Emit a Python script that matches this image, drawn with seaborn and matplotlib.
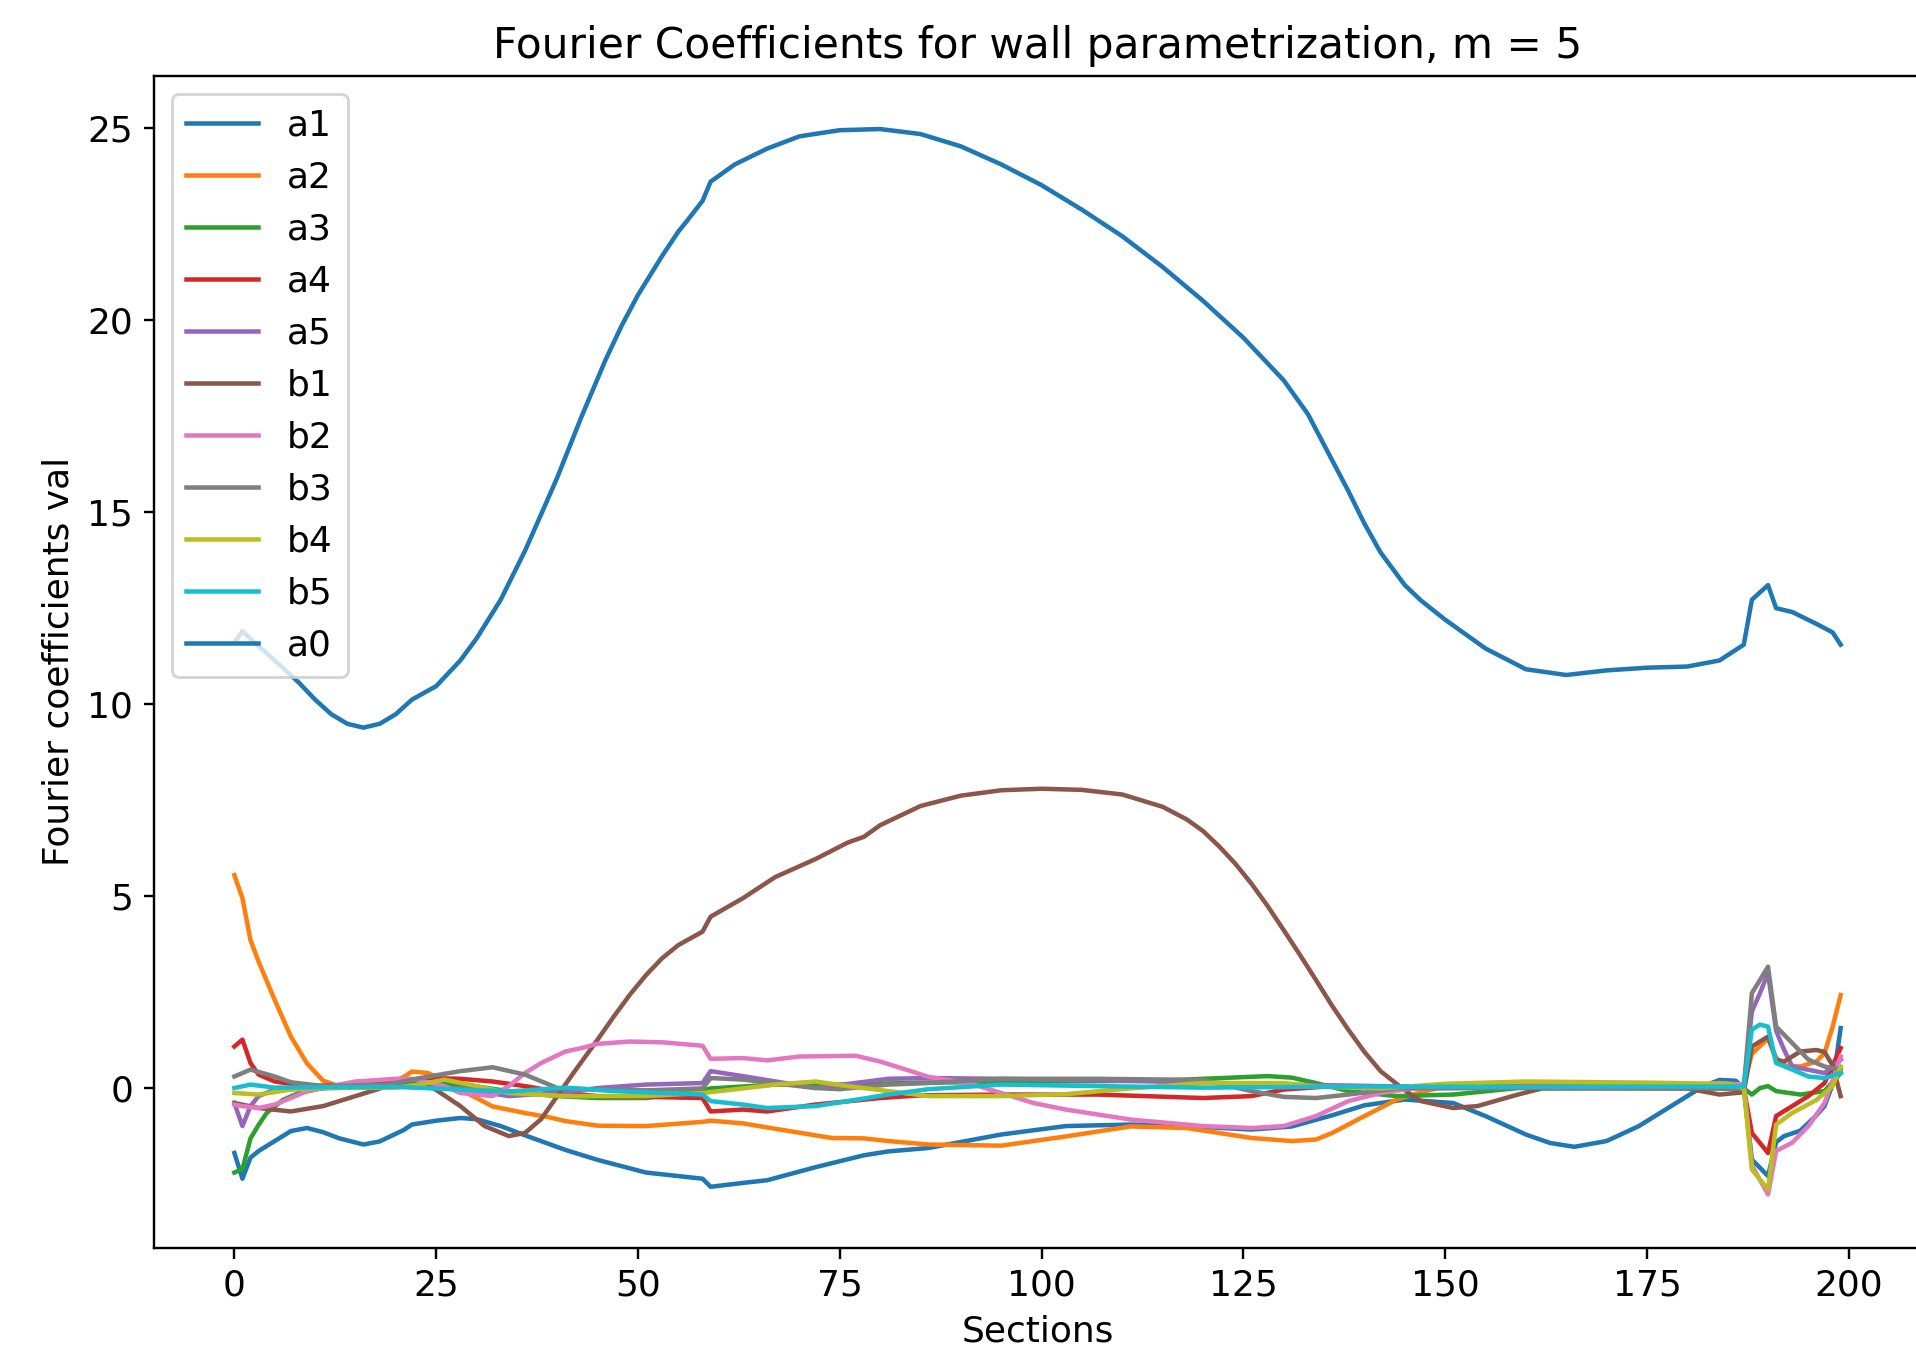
import matplotlib
matplotlib.use("Agg")
import matplotlib.pyplot as plt
import seaborn as sns

# ---- data ----
a1_x = [0,1,2,3,5,7,9,11,13,16,18,21,22,25,28,30,33,36,41,45,51,58,59,63,66,72,78,81,86,95,103,111,118,126,131,136,140,145,151,155,160,163,166,170,174,178,182,184,186,187,188,190,191,192,194,196,197,198,199]
a1_y = [-1.68,-2.35,-1.8,-1.63,-1.37,-1.11,-1.03,-1.14,-1.3,-1.46,-1.38,-1.08,-0.94,-0.84,-0.77,-0.8,-0.98,-1.22,-1.6,-1.86,-2.19,-2.35,-2.56,-2.46,-2.39,-2.05,-1.74,-1.64,-1.55,-1.2,-0.98,-0.94,-0.98,-1.07,-0.99,-0.7,-0.44,-0.29,-0.38,-0.72,-1.2,-1.42,-1.52,-1.37,-0.98,-0.46,0.06,0.22,0.2,0.0,-1.85,-2.28,-1.4,-1.24,-1.1,-0.7,-0.46,0.1,1.57]

a2_x = [0,1,2,3,5,7,9,11,13,16,19,21,22,24,26,28,32,36,39,41,45,51,58,59,63,67,74,78,81,86,95,103,111,118,126,131,134,136,140,144,147,150,155,170,180,187,188,189,190,191,192,194,196,197,198,199]
a2_y = [5.55,4.95,3.86,3.3,2.3,1.35,0.65,0.2,0.06,0.05,0.1,0.3,0.44,0.4,0.2,-0.03,-0.47,-0.64,-0.75,-0.85,-0.97,-0.98,-0.87,-0.84,-0.91,-1.05,-1.29,-1.3,-1.37,-1.46,-1.49,-1.25,-0.99,-1.03,-1.29,-1.37,-1.33,-1.16,-0.72,-0.29,-0.1,0.05,0.12,0.12,0.1,0.1,0.9,1.1,1.3,0.8,0.6,0.57,0.7,0.92,1.6,2.43]

a3_x = [0,1,2,3,4,6,8,11,20,25,30,35,40,45,51,58,59,67,75,85,100,115,120,128,131,134,138,144,151,159,170,187,188,189,190,191,194,197,199]
a3_y = [-2.19,-2.1,-1.3,-0.95,-0.64,-0.3,-0.12,0.01,0.1,0.15,0.05,-0.1,-0.2,-0.25,-0.25,-0.05,0.0,0.1,0.1,0.15,0.18,0.2,0.25,0.32,0.28,0.14,-0.07,-0.2,-0.16,0.01,0.02,0.0,-0.16,0.01,0.06,-0.07,-0.16,-0.07,0.4]

a4_x = [0,1,2,3,5,9,15,20,24,28,32,36,41,45,51,58,59,63,66,72,80,85,95,107,120,126,130,136,150,170,187,188,190,191,193,195,197,199]
a4_y = [1.09,1.27,0.66,0.36,0.18,0.06,0.1,0.2,0.27,0.25,0.18,0.06,-0.12,-0.2,-0.22,-0.25,-0.6,-0.55,-0.6,-0.42,-0.25,-0.18,-0.16,-0.16,-0.25,-0.2,-0.03,0.06,0.05,0.03,0.0,-1.16,-1.68,-0.72,-0.46,-0.2,0.14,1.05]

a5_x = [0,1,2,3,5,10,20,28,34,41,45,51,58,59,63,72,81,86,95,110,130,145,170,187,188,189,190,191,192,193,197,199]
a5_y = [-0.38,-0.98,-0.46,-0.2,-0.03,0.0,0.05,0.0,-0.2,-0.1,0.01,0.1,0.14,0.45,0.32,0.01,0.25,0.27,0.25,0.2,0.1,0.05,0.03,0.05,2.0,2.48,3.0,1.5,1.0,0.57,0.4,0.75]

b1_x = [0,3,7,11,15,19,22,24,28,31,34,36,38,40,42,45,47,49,51,53,55,58,59,63,67,72,76,78,80,85,90,95,100,105,110,115,118,120,122,124,126,128,130,132,134,136,138,140,142,145,147,151,154,159,162,170,180,184,187,188,190,191,192,194,196,197,198,199]
b1_y = [-0.38,-0.51,-0.6,-0.46,-0.2,0.06,0.23,0.1,-0.46,-0.98,-1.24,-1.16,-0.8,-0.2,0.4,1.27,1.87,2.44,2.95,3.39,3.73,4.08,4.47,4.95,5.5,5.97,6.4,6.55,6.85,7.35,7.62,7.76,7.8,7.77,7.65,7.33,7.0,6.7,6.3,5.85,5.33,4.75,4.12,3.48,2.82,2.15,1.53,0.95,0.45,-0.05,-0.33,-0.51,-0.46,-0.16,0.0,0.0,0.0,-0.16,-0.1,1.09,1.35,0.75,0.7,0.96,1.0,0.95,0.6,-0.2]

b2_x = [0,1,3,5,7,9,11,15,20,22,26,28,32,34,36,38,41,43,45,49,53,58,59,63,66,70,77,80,82,86,91,95,99,103,111,120,126,130,134,138,142,146,160,180,184,187,188,190,191,193,195,197,198,199]
b2_y = [-0.42,-0.46,-0.51,-0.42,-0.25,-0.07,0.02,0.18,0.25,0.25,0.06,-0.12,-0.2,0.06,0.4,0.66,0.96,1.05,1.16,1.22,1.2,1.11,0.77,0.79,0.73,0.83,0.85,0.7,0.57,0.3,0.14,-0.12,-0.38,-0.55,-0.81,-0.98,-1.03,-0.98,-0.72,-0.33,-0.12,0.0,0.02,0.05,0.14,0.1,-2.0,-2.76,-1.63,-1.41,-0.98,-0.38,0.2,0.83]

b3_x = [0,2,5,7,11,19,23,28,32,36,39,40,45,51,58,59,63,72,75,81,86,95,107,120,126,130,134,138,144,160,187,188,189,190,191,193,195,197,199]
b3_y = [0.31,0.49,0.31,0.16,0.06,0.1,0.27,0.45,0.55,0.36,0.1,0.01,-0.03,-0.05,0.0,0.27,0.23,0.01,-0.02,0.1,0.14,0.25,0.25,0.22,-0.07,-0.22,-0.25,-0.16,0.0,0.02,0.0,2.48,2.82,3.17,1.61,1.18,0.75,0.57,0.49]

b4_x = [0,3,7,11,20,23,26,30,34,41,51,58,63,67,72,76,81,86,95,103,111,120,130,134,142,150,160,175,185,187,188,190,191,193,196,198,199]
b4_y = [-0.12,-0.16,-0.03,0.01,0.02,0.1,0.23,0.06,-0.12,-0.2,-0.2,-0.12,0.0,0.1,0.18,0.06,-0.07,-0.2,-0.2,-0.15,0.0,0.14,0.14,0.05,0.0,0.12,0.18,0.15,0.12,0.01,-2.11,-2.63,-0.94,-0.64,-0.3,0.06,0.57]

b5_x = [0,2,5,10,20,28,34,41,47,58,59,63,66,72,76,81,86,95,107,120,140,160,185,187,188,189,190,191,193,195,197,199]
b5_y = [0.01,0.1,0.02,0.03,0.04,-0.03,-0.08,0.02,-0.07,-0.16,-0.33,-0.42,-0.51,-0.46,-0.33,-0.16,-0.02,0.1,0.06,0.02,0.05,0.04,0.05,0.05,1.53,1.66,1.61,0.66,0.49,0.31,0.27,0.4]

a0_x = [0,1,2,5,8,10,12,14,16,18,20,22,25,28,30,33,36,38,40,43,46,48,50,53,55,56,58,59,62,66,70,75,80,85,90,95,100,105,110,115,120,125,130,133,135,138,140,142,145,147,150,155,160,165,170,175,180,184,187,188,190,191,193,196,198,199]
a0_y = [11.61,11.9,11.7,11.14,10.56,10.12,9.74,9.49,9.39,9.49,9.74,10.12,10.47,11.14,11.71,12.72,13.99,14.94,15.9,17.48,18.97,19.86,20.65,21.67,22.3,22.56,23.1,23.6,24.05,24.46,24.78,24.94,24.97,24.84,24.52,24.05,23.51,22.87,22.18,21.38,20.5,19.54,18.43,17.55,16.75,15.55,14.7,13.95,13.1,12.7,12.2,11.45,10.91,10.76,10.88,10.95,10.98,11.14,11.55,12.72,13.1,12.5,12.4,12.09,11.87,11.55]

labels = ["a1", "a2", "a3", "a4", "a5", "b1", "b2", "b3", "b4", "b5", "a0"]
colors = ["#1f77b4", "#ff7f0e", "#2ca02c", "#d62728", "#9467bd",
          "#8c564b", "#e377c2", "#7f7f7f", "#bcbd22", "#17becf", "#1f77b4"]
series = [(a1_x, a1_y), (a2_x, a2_y), (a3_x, a3_y), (a4_x, a4_y), (a5_x, a5_y),
          (b1_x, b1_y), (b2_x, b2_y), (b3_x, b3_y), (b4_x, b4_y), (b5_x, b5_y),
          (a0_x, a0_y)]

plt.rcParams['font.family'] = ['DejaVu Sans']
plt.rcParams['font.size'] = 12
fig = plt.figure(figsize=(1916 / 216, 1358 / 216), dpi=216)
ax = fig.add_axes([0.0804, 0.0812, 0.9222, 0.8630])

for (xs, ys), lab, col in zip(series, labels, colors):
    sns.lineplot(x=xs, y=ys, ax=ax, color=col, label=lab, linewidth=1.5)

ax.set_title("Fourier Coefficients for wall parametrization, m = 5", fontsize=14.1)
ax.set_xlabel("Sections", fontsize=12)
ax.set_ylabel("Fourier coefficients val", fontsize=12)
ax.set_xticks([0, 25, 50, 75, 100, 125, 150, 175, 200])
ax.set_yticks([0, 5, 10, 15, 20, 25])
ax.tick_params(labelsize=12)
ax.legend(loc="upper left", fontsize=12, labelspacing=0.5)

fig.savefig("out.png", dpi=216)
